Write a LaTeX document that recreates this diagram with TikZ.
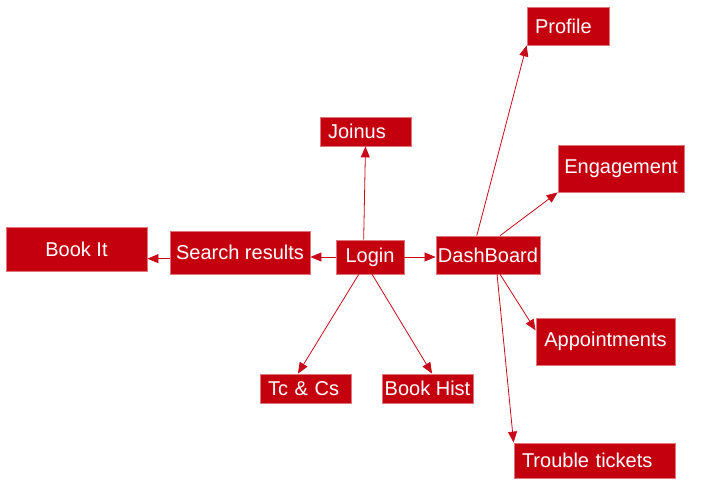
\documentclass[tikz,border=0pt]{standalone}
\usepackage{fontspec}
\setmainfont{Liberation Sans}
\usetikzlibrary{arrows.meta}
\definecolor{boxred}{RGB}{197,0,14}
\definecolor{linkred}{RGB}{200,10,25}

\begin{document}
\begin{tikzpicture}[x=1pt, y=-1pt,
    page/.style={fill=boxred, draw=boxred!55!white, line width=0.8pt, text=white,
                 font=\fontsize{20}{22}\selectfont, inner ysep=2pt, inner xsep=2pt,
                 align=center},
    leftpage/.style={page, inner xsep=8pt, align=left},
    link/.style={draw=linkred, line width=0.8pt, -{Triangle[length=11pt, width=9pt]}}]
    \useasboundingbox (0,0) rectangle (703,486);

    \node[page, minimum width=141pt, minimum height=44pt] (bookit) at (76.5,249) {Book It};
    \node[page, minimum width=140pt, minimum height=43pt] (search) at (240,252.5) {Search results};
    \node[page, minimum width=68pt, minimum height=34pt] (login) at (370,257) {Login};
    \node[page, minimum width=104pt, minimum height=38pt] (dash) at (488,255) {DashBoard};
    \node[leftpage, text width=75pt, minimum height=29pt] (joinus) at (365.5,131.5) {Joinus};
    \node[leftpage, text width=66pt, minimum height=38pt] (profile) at (568,26) {Profile};
    \node[page, minimum width=126pt, minimum height=47pt] (engage) at (621,168.5) {Engagement};
    \node[page, minimum width=139pt, minimum height=47pt] (appoint) at (605.5,341.5) {Appointments};
    \node[leftpage, text width=145pt, minimum height=35pt] (trouble) at (594.5,460.5) {Trouble tickets};
    \node[leftpage, text width=75pt, minimum height=29pt] (tccs) at (305.5,388.5) {Tc \& Cs};
    \node[page, minimum width=91pt, minimum height=29pt] (bookhist) at (427.5,388.5) {Book Hist};

    \draw[link] (login.110) -- (joinus.south);
    \draw[link] (login.west) -- (login.west -| search.east);
    \draw[link] (search.185) -- (search.185 -| bookit.east);
    \draw[link] (login.east) -- (login.east -| dash.west);
    \draw[link] (login.237) -- (tccs.117);
    \draw[link] (login.277) -- (bookhist.73);

    \draw[link] (dash.120) -- (profile.south west);
    \draw[link] (dash.58) -- (engage.south west);
    \draw[link] (dash.302) -- (appoint.171);
    \draw[link] (dash.295) -- (trouble.north west);

\end{tikzpicture}
\end{document}
